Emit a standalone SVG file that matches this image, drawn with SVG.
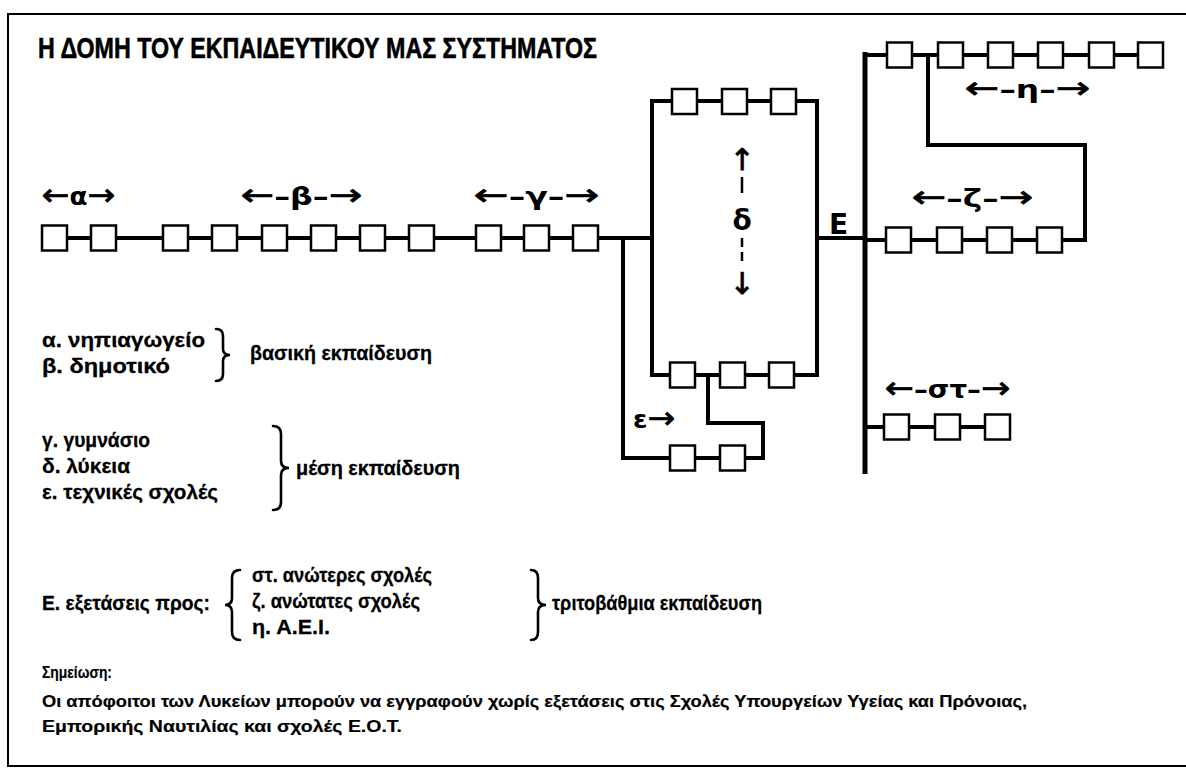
<svg xmlns="http://www.w3.org/2000/svg" width="1186" height="773" viewBox="0 0 1186 773">
  <style>
    .frame { fill: none; stroke: #000; stroke-width: 2; }
    .wire { fill: none; stroke: #000; stroke-width: 4; stroke-linejoin: miter; stroke-linecap: square; }
    .bar { fill: none; stroke: #000; stroke-width: 5; }
    .box { fill: #fff; stroke: #000; stroke-width: 2.5; }
    .brace { fill: none; stroke: #000; stroke-width: 2.6; stroke-linecap: round; }
    .dash { stroke: #000; stroke-width: 2.5; }
    text { font-family: "Liberation Sans", "DejaVu Sans", sans-serif; font-weight: bold; fill: #000; }
    .title { font-size: 30px; stroke: #000; stroke-width: 0.6; }
    .lbl { font-family: "DejaVu Sans", sans-serif; font-size: 24px; }
    .ar { font-size: 30px; font-weight: normal; stroke: #000; stroke-width: 0.8; }
    .big { font-family: "DejaVu Sans", sans-serif; font-size: 28px; }
    .txt { font-size: 21px; stroke: #000; stroke-width: 0.3; }
    .note { font-size: 17px; stroke: #000; stroke-width: 0.2; }
  </style>

  <rect width="1186" height="773" fill="#fff"/>

  <!-- page frame -->
  <path class="frame" d="M1186 14 H8 V766 H1186"/>

  <text class="title" x="38" y="58" textLength="559" lengthAdjust="spacingAndGlyphs">Η ΔΟΜΗ ΤΟΥ ΕΚΠΑΙΔΕΥΤΙΚΟΥ ΜΑΣ ΣΥΣΤΗΜΑΤΟΣ</text>

  <!-- connectors -->
  <g id="connectors">
    <path class="wire" d="M54 238 H652"/>
    <path class="wire" d="M652 101 H817 V375 H652 Z"/>
    <path class="wire" d="M623 238 V458 H763 V423 H708 V375"/>
    <path class="wire" d="M817 238 H865"/>
    <path class="bar" d="M865 52 V474"/>
    <path class="wire" d="M865 55 H1150"/>
    <path class="wire" d="M928 55 V145 H1085 V240 H1050"/>
    <path class="wire" d="M865 240 H1085"/>
    <path class="wire" d="M865 427 H997"/>
  </g>

  <!-- α: kindergarten -->
  <g id="a1"><rect class="box" x="42" y="225.5" width="25" height="25"/></g>
  <g id="a2"><rect class="box" x="91" y="225.5" width="25" height="25"/></g>
  <!-- β: primary school -->
  <g id="b1"><rect class="box" x="163" y="225.5" width="25" height="25"/></g>
  <g id="b2"><rect class="box" x="212" y="225.5" width="25" height="25"/></g>
  <g id="b3"><rect class="box" x="262" y="225.5" width="25" height="25"/></g>
  <g id="b4"><rect class="box" x="311" y="225.5" width="25" height="25"/></g>
  <g id="b5"><rect class="box" x="360" y="225.5" width="25" height="25"/></g>
  <g id="b6"><rect class="box" x="409" y="225.5" width="25" height="25"/></g>
  <!-- γ: gymnasium -->
  <g id="g1"><rect class="box" x="476" y="225.5" width="25" height="25"/></g>
  <g id="g2"><rect class="box" x="524" y="225.5" width="25" height="25"/></g>
  <g id="g3"><rect class="box" x="573" y="225.5" width="25" height="25"/></g>
  <!-- δ: lyceum, two tracks -->
  <g id="d1"><rect class="box" x="672" y="89" width="25" height="25"/></g>
  <g id="d2"><rect class="box" x="722" y="89" width="25" height="25"/></g>
  <g id="d3"><rect class="box" x="771" y="89" width="25" height="25"/></g>
  <g id="d4"><rect class="box" x="670" y="362.5" width="25" height="25"/></g>
  <g id="d5"><rect class="box" x="720" y="362.5" width="25" height="25"/></g>
  <g id="d6"><rect class="box" x="769" y="362.5" width="25" height="25"/></g>
  <!-- ε: technical schools -->
  <g id="e1"><rect class="box" x="670" y="445.5" width="25" height="25"/></g>
  <g id="e2"><rect class="box" x="720" y="445.5" width="25" height="25"/></g>
  <!-- η: universities -->
  <g id="h1"><rect class="box" x="887" y="42.5" width="25" height="25"/></g>
  <g id="h2"><rect class="box" x="938" y="42.5" width="25" height="25"/></g>
  <g id="h3"><rect class="box" x="988" y="42.5" width="25" height="25"/></g>
  <g id="h4"><rect class="box" x="1038" y="42.5" width="25" height="25"/></g>
  <g id="h5"><rect class="box" x="1089" y="42.5" width="25" height="25"/></g>
  <g id="h6"><rect class="box" x="1138" y="42.5" width="25" height="25"/></g>
  <!-- ζ: highest schools -->
  <g id="z1"><rect class="box" x="886" y="227.5" width="25" height="25"/></g>
  <g id="z2"><rect class="box" x="937" y="227.5" width="25" height="25"/></g>
  <g id="z3"><rect class="box" x="987" y="227.5" width="25" height="25"/></g>
  <g id="z4"><rect class="box" x="1037" y="227.5" width="25" height="25"/></g>
  <!-- στ: higher schools -->
  <g id="s1"><rect class="box" x="884" y="414.5" width="25" height="25"/></g>
  <g id="s2"><rect class="box" x="935" y="414.5" width="25" height="25"/></g>
  <g id="s3"><rect class="box" x="985" y="414.5" width="25" height="25"/></g>

  <!-- stage labels -->
  <g id="labels">
    <text class="lbl" x="42" y="205" textLength="73" lengthAdjust="spacingAndGlyphs"><tspan class="ar">←</tspan>α<tspan class="ar">→</tspan></text>
    <text class="lbl" x="241" y="205" textLength="121" lengthAdjust="spacingAndGlyphs"><tspan class="ar">←</tspan>–β–<tspan class="ar">→</tspan></text>
    <text class="lbl" x="474" y="205" textLength="125" lengthAdjust="spacingAndGlyphs"><tspan class="ar">←</tspan>–γ–<tspan class="ar">→</tspan></text>
    <text class="lbl" x="633" y="428" textLength="42" lengthAdjust="spacingAndGlyphs">ε<tspan class="ar">→</tspan></text>
    <text class="big" x="829" y="234">Ε</text>
    <text class="lbl" x="965" y="98" textLength="125" lengthAdjust="spacingAndGlyphs"><tspan class="ar">←</tspan>–η–<tspan class="ar">→</tspan></text>
    <text class="lbl" x="912" y="207" textLength="121" lengthAdjust="spacingAndGlyphs"><tspan class="ar">←</tspan>–ζ–<tspan class="ar">→</tspan></text>
    <text class="lbl" x="885" y="398" textLength="125" lengthAdjust="spacingAndGlyphs"><tspan class="ar">←</tspan>–στ–<tspan class="ar">→</tspan></text>
    <text class="lbl" x="742" y="170" text-anchor="middle"><tspan class="ar">↑</tspan></text>
    <line class="dash" x1="742" y1="177" x2="742" y2="193"/>
    <text class="big" x="742" y="230" text-anchor="middle">δ</text>
    <line class="dash" x1="742" y1="238" x2="742" y2="247"/>
    <line class="dash" x1="742" y1="252" x2="742" y2="261"/>
    <text class="lbl" x="742" y="294" text-anchor="middle"><tspan class="ar">↓</tspan></text>
  </g>

  <!-- legend -->
  <g id="legend">
    <text class="txt" x="42" y="347" textLength="163" lengthAdjust="spacingAndGlyphs">α. νηπιαγωγείο</text>
    <text class="txt" x="42" y="373" textLength="128" lengthAdjust="spacingAndGlyphs">β. δημοτικό</text>
    <path class="brace" d="M216 329 Q223 329 223 336 V349 Q223 355 230 355 Q223 355 223 361 V374 Q223 381 216 381"/>
    <text class="txt" x="250" y="360" textLength="182" lengthAdjust="spacingAndGlyphs">βασική εκπαίδευση</text>

    <text class="txt" x="42" y="447" textLength="108" lengthAdjust="spacingAndGlyphs">γ. γυμνάσιο</text>
    <text class="txt" x="42" y="473" textLength="88" lengthAdjust="spacingAndGlyphs">δ. λύκεια</text>
    <text class="txt" x="42" y="499" textLength="176" lengthAdjust="spacingAndGlyphs">ε. τεχνικές σχολές</text>
    <path class="brace" d="M273 426 Q281 426 281 434 V461 Q281 468 289 468 Q281 468 281 475 V502 Q281 510 273 510"/>
    <text class="txt" x="296" y="475" textLength="164" lengthAdjust="spacingAndGlyphs">μέση εκπαίδευση</text>

    <text class="txt" x="42" y="610" textLength="168" lengthAdjust="spacingAndGlyphs">Ε. εξετάσεις προς:</text>
    <path class="brace" d="M240 570 Q232 570 232 578 V598 Q232 605 225 605 Q232 605 232 612 V632 Q232 640 240 640"/>
    <text class="txt" x="252" y="582" textLength="180" lengthAdjust="spacingAndGlyphs">στ. ανώτερες σχολές</text>
    <text class="txt" x="252" y="608" textLength="168" lengthAdjust="spacingAndGlyphs">ζ. ανώτατες σχολές</text>
    <text class="txt" x="252" y="634" textLength="78" lengthAdjust="spacingAndGlyphs">η. Α.Ε.Ι.</text>
    <path class="brace" d="M531 570 Q538 570 538 578 V598 Q538 605 546 605 Q538 605 538 612 V632 Q538 640 531 640"/>
    <text class="txt" x="552" y="610" textLength="210" lengthAdjust="spacingAndGlyphs">τριτοβάθμια εκπαίδευση</text>
  </g>

  <!-- note -->
  <g id="note">
    <text class="note" x="42" y="678" textLength="70" lengthAdjust="spacingAndGlyphs">Σημείωση:</text>
    <text class="note" x="42" y="707" textLength="985" lengthAdjust="spacingAndGlyphs">Οι απόφοιτοι των Λυκείων μπορούν να εγγραφούν χωρίς εξετάσεις στις Σχολές Υπουργείων Υγείας και Πρόνοιας,</text>
    <text class="note" x="42" y="732" textLength="360" lengthAdjust="spacingAndGlyphs">Εμπορικής Ναυτιλίας και σχολές Ε.Ο.Τ.</text>
  </g>
</svg>
